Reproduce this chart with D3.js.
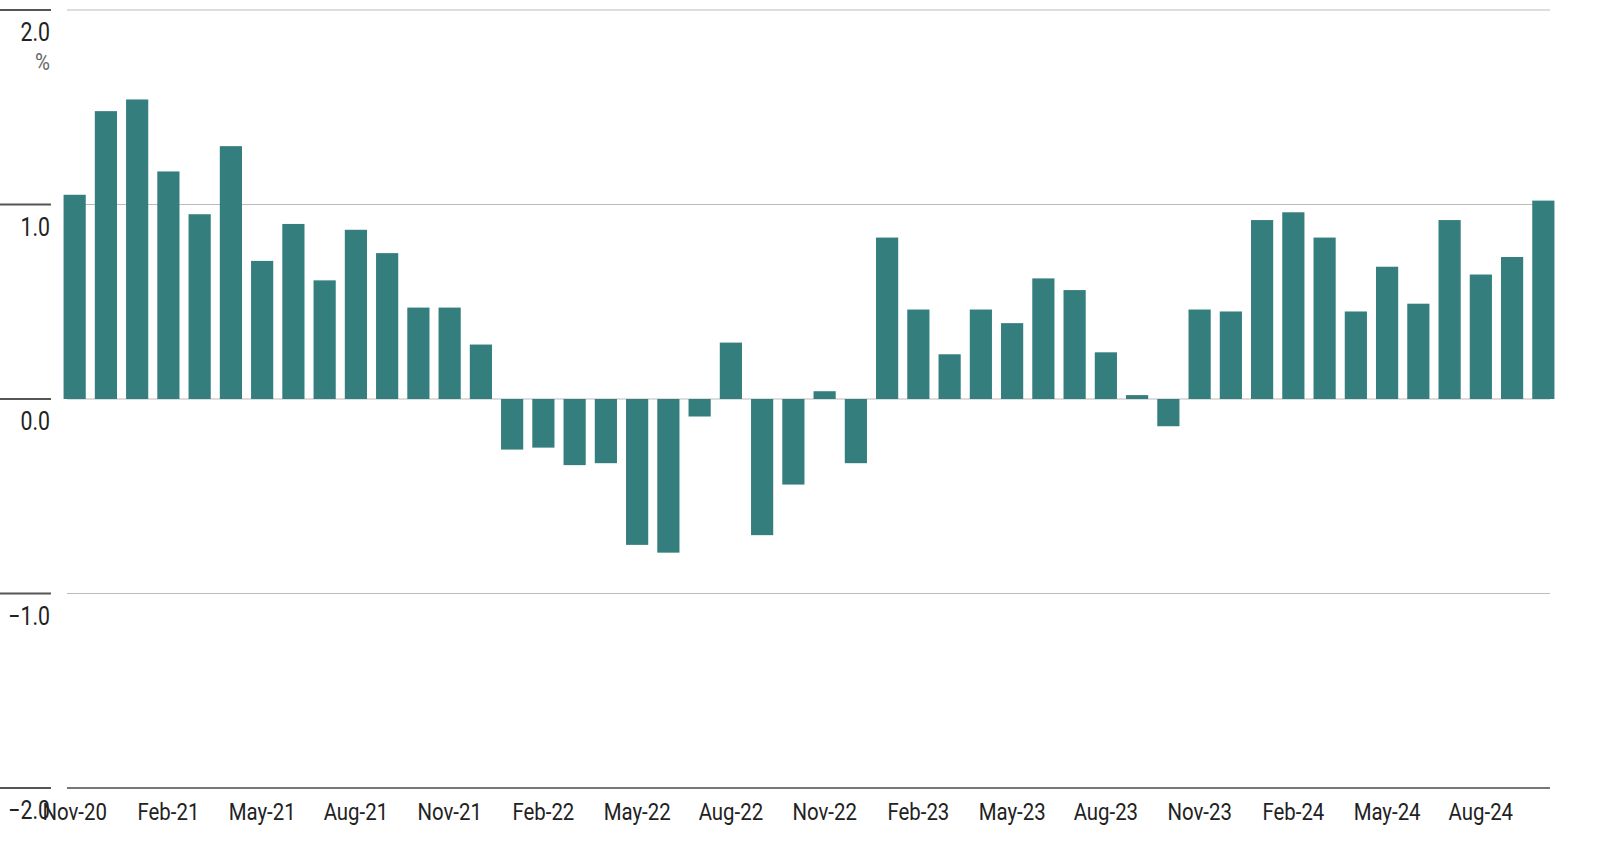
<!DOCTYPE html><html><head><meta charset="utf-8">
<script src="https://cdn.jsdelivr.net/npm/d3@7"></script>
<style>body{margin:0;background:#fff}text{font-family:Roboto,"Noto Sans",sans-serif}</style></head><body>
<svg id="c" width="1600" height="853"></svg>
<script>
const months = ["Nov-20","Dec-20","Jan-21","Feb-21","Mar-21","Apr-21","May-21","Jun-21","Jul-21","Aug-21","Sep-21","Oct-21","Nov-21","Dec-21","Jan-22","Feb-22","Mar-22","Apr-22","May-22","Jun-22","Jul-22","Aug-22","Sep-22","Oct-22","Nov-22","Dec-22","Jan-23","Feb-23","Mar-23","Apr-23","May-23","Jun-23","Jul-23","Aug-23","Sep-23","Oct-23","Nov-23","Dec-23","Jan-24","Feb-24","Mar-24","Apr-24","May-24","Jun-24","Jul-24","Aug-24","Sep-24","Oct-24"];
const values = [1.05,1.48,1.54,1.17,0.95,1.30,0.71,0.90,0.61,0.87,0.75,0.47,0.47,0.28,-0.26,-0.25,-0.34,-0.33,-0.75,-0.79,-0.09,0.29,-0.70,-0.44,0.04,-0.33,0.83,0.46,0.23,0.46,0.39,0.62,0.56,0.24,0.02,-0.14,0.46,0.45,0.92,0.96,0.83,0.45,0.68,0.49,0.92,0.64,0.73,1.02];
const yTicks = [2,1,0,-1,-2];
const yLabels = ["2.0","1.0","0.0","\u22121.0","\u22122.0"];
const xLabelMonths = months.filter((m,i)=>i%3===0);

const svg = d3.select("#c");
const x = d3.scaleBand().domain(months).range([62,1556]).paddingInner(0.29).paddingOuter(0.05);
const y = d3.scaleLinear().domain([-2,2]).range([788,10]);

yTicks.forEach((t,i)=>{
  svg.append("line").attr("x1",67).attr("x2",1550).attr("y1",y(t)).attr("y2",y(t))
    .attr("stroke", t===-2 ? "#777" : "#bbb").attr("stroke-width", t===-2?2:1);
  svg.append("line").attr("x1",0).attr("x2",51).attr("y1",y(t)).attr("y2",y(t)).attr("stroke","#555").attr("stroke-width",2);
  svg.append("g").attr("transform",`translate(50,${y(t)+31}) scale(0.82,1)`)
    .append("text").attr("text-anchor","end").attr("font-size",26).attr("fill","#222").text(yLabels[i]);
});
svg.append("g").attr("transform","translate(50,70) scale(0.85,1)")
  .append("text").attr("text-anchor","end").attr("font-size",24).attr("fill","#666").text("%");

svg.selectAll("rect.bar").data(values).enter().append("rect")
  .attr("x",(d,i)=>x(months[i])).attr("width",x.bandwidth())
  .attr("y",d=>y(Math.max(0,d))).attr("height",d=>Math.abs(y(d)-y(0)))
  .attr("fill","#347f7e");

const xAxis = d3.axisBottom(x).tickValues(xLabelMonths).tickSize(0).tickPadding(10);
const g = svg.append("g").attr("transform",`translate(0,${y(-2)})`).call(xAxis);
g.select(".domain").remove();
g.selectAll("text").attr("font-size",24).attr("fill","#222").attr("font-family","Roboto").attr("dy","0.9em")
  .attr("transform","scale(0.85,1)");
</script></body></html>
